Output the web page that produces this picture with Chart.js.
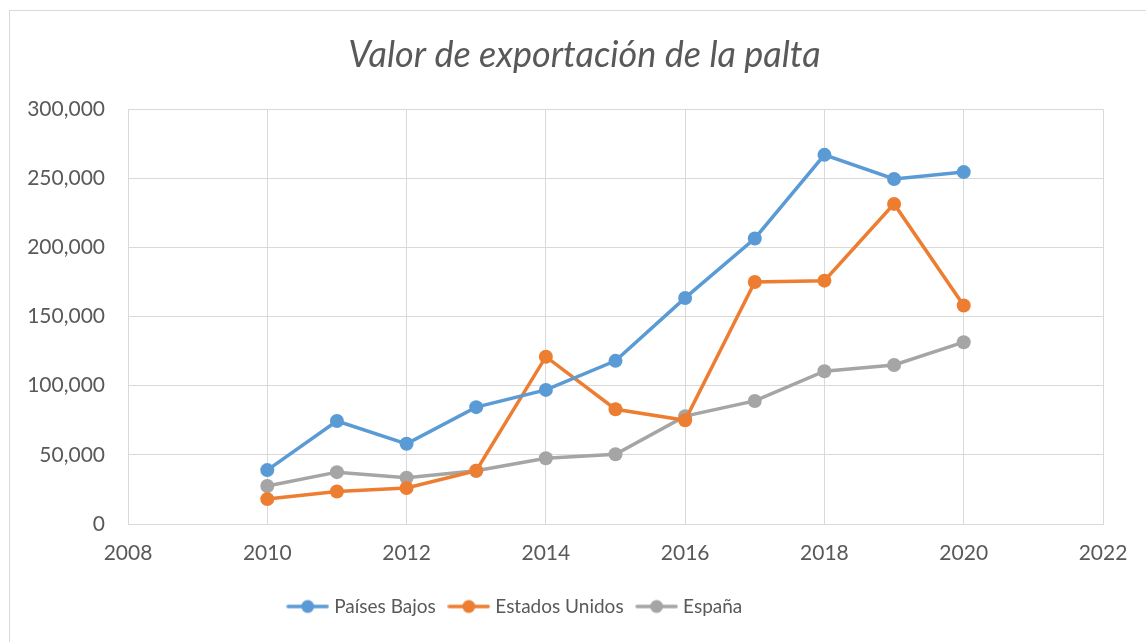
<!DOCTYPE html>
<html>
<head>
<meta charset="utf-8">
<script src="https://cdn.jsdelivr.net/npm/chart.js@4/dist/chart.umd.min.js"></script>
<style>
    html, body { margin: 0; padding: 0; background: #ffffff; }
    #wrap { position: absolute; left: 0; top: 0; width: 1146px; height: 642px; }
</style>
</head>
<body>
<div id="wrap"><canvas id="exportChart" width="1146" height="642"></canvas></div>
<script>
    // Data
    const years = [2010, 2011, 2012, 2013, 2014, 2015, 2016, 2017, 2018, 2019, 2020];
    const paisesBajos = [39000, 74500, 58000, 84500, 97000, 118000, 163500, 206500, 267000, 249500, 254500];
    const estadosUnidos = [18000, 23500, 26000, 38500, 121000, 83000, 75000, 175000, 176000, 231500, 158000];
    const espana = [27500, 37500, 33500, 38500, 47500, 50500, 78000, 89000, 110500, 115000, 131500];
    const seriesNames = ["Países Bajos", "Estados Unidos", "España"];
    const seriesColors = ["#5B9BD5", "#ED7D31", "#A5A5A5"];
    const xMin = 2008, xMax = 2022, xStep = 2;
    const yMin = 0, yMax = 300000, yStep = 50000;

    const textColor = '#595959';
    const gridColor = '#d9d9d9';
    const fontFamily = 'Lato, "Open Sans", sans-serif';

    function toPoints(values) {
        return values.map((v, i) => ({ x: years[i], y: v }));
    }

    // small line+dot icon for the legend
    function legendIcon(color) {
        const c = document.createElement('canvas');
        c.width = 43; c.height = 16;
        const g = c.getContext('2d');
        g.strokeStyle = color;
        g.lineWidth = 3.5;
        g.lineCap = 'round';
        g.beginPath();
        g.moveTo(2, 8); g.lineTo(41, 8);
        g.stroke();
        g.fillStyle = color;
        g.beginPath();
        g.arc(21.5, 8, 6.5, 0, Math.PI * 2);
        g.fill();
        return c;
    }

    const outerBorder = {
        id: 'outerBorder',
        beforeDraw(chart) {
            const ctx = chart.ctx;
            ctx.save();
            ctx.fillStyle = '#ffffff';
            ctx.fillRect(0, 0, chart.width, chart.height);
            ctx.strokeStyle = gridColor;
            ctx.lineWidth = 1;
            ctx.strokeRect(9.5, 10.5, 1160, 700);
            ctx.restore();
        }
    };

    // the original chart box is wider than the picture, so title and legend sit off centre
    const blockShift = {
        id: 'blockShift',
        afterLayout(chart) {
            if (chart.titleBlock) {
                chart.titleBlock.left = 66;
            }
            if (chart.legend) {
                chart.legend.left = -70;
            }
        }
    };

    const seriesData = [paisesBajos, estadosUnidos, espana];

    document.addEventListener('DOMContentLoaded', function () {
        const ctx = document.getElementById('exportChart').getContext('2d');
        new Chart(ctx, {
            type: 'line',
            data: {
                datasets: seriesNames.map((name, i) => ({
                    label: name,
                    data: toPoints(seriesData[i]),
                    borderColor: seriesColors[i],
                    backgroundColor: seriesColors[i],
                    borderWidth: 3.5,
                    pointRadius: 7,
                    pointHoverRadius: 7,
                    pointBorderWidth: 0,
                    tension: 0
                }))
            },
            options: {
                responsive: false,
                animation: false,
                layout: { padding: { left: 0, right: 43, top: 0, bottom: 16 } },
                plugins: {
                    title: {
                        display: true,
                        text: 'Valor de exportación de la palta',
                        color: textColor,
                        font: { family: fontFamily, size: 36, style: 'italic', weight: 'normal' },
                        padding: { top: 34, bottom: 32 }
                    },
                    legend: {
                        position: 'bottom',
                        labels: {
                            color: textColor,
                            font: { family: fontFamily, size: 19 },
                            usePointStyle: true,
                            pointStyleWidth: 34,
                            padding: 16,
                            generateLabels(chart) {
                                return chart.data.datasets.map((ds, i) => ({
                                    text: ds.label,
                                    fontColor: textColor,
                                    pointStyle: legendIcon(seriesColors[i]),
                                    fillStyle: seriesColors[i],
                                    strokeStyle: seriesColors[i],
                                    lineWidth: 0,
                                    hidden: false,
                                    datasetIndex: i
                                }));
                            }
                        }
                    },
                    tooltip: { enabled: false }
                },
                scales: {
                    x: {
                        type: 'linear',
                        min: xMin,
                        max: xMax,
                        grid: { color: gridColor, lineWidth: 1, drawTicks: false },
                        border: { color: gridColor, width: 1 },
                        ticks: {
                            stepSize: xStep,
                            color: textColor,
                            padding: 17,
                            font: { family: fontFamily, size: 21 },
                            callback: v => String(v)
                        },
                        afterFit(scale) { scale.height = 57; }
                    },
                    y: {
                        min: yMin,
                        max: yMax,
                        grid: { color: gridColor, lineWidth: 1, drawTicks: false },
                        border: { color: gridColor, width: 1 },
                        ticks: {
                            stepSize: yStep,
                            color: textColor,
                            padding: 23,
                            font: { family: fontFamily, size: 21 },
                            callback: v => v.toLocaleString('en-US')
                        },
                        afterFit(scale) { scale.width = 128; }
                    }
                }
            },
            plugins: [outerBorder, blockShift]
        });
    });
</script>
</body>
</html>
